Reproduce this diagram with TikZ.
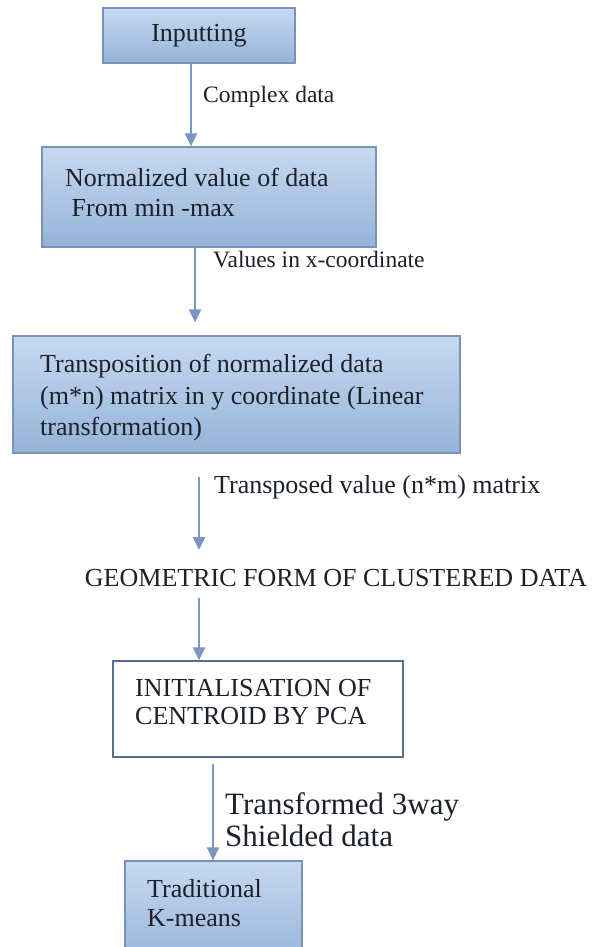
\documentclass[tikz,border=0pt]{standalone}
\usepackage{fontspec}
\setmainfont{LiberationSerif}[Extension=.ttf, UprightFont=*-Regular, BoldFont=*-Bold, ItalicFont=*-Italic]
\usetikzlibrary{arrows.meta}

\definecolor{boxtop}{RGB}{198,217,241}
\definecolor{boxbottom}{RGB}{149,179,215}
\definecolor{boxline}{RGB}{121,146,184}
\definecolor{flowline}{RGB}{122,150,190}
\definecolor{initline}{RGB}{84,111,152}
\definecolor{ink}{RGB}{28,32,42}

\begin{document}
\begin{tikzpicture}[x=1pt,y=-1pt,
  shadedbox/.style={draw=boxline, line width=1.2pt, top color=boxtop, bottom color=boxbottom, inner sep=0pt},
  plainbox/.style={draw=initline, line width=1.3pt, fill=white, inner sep=0pt},
  boxtext/.style={anchor=north west, inner sep=0pt, align=left, text=ink},
  note/.style={anchor=west, inner sep=0pt, text=ink},
  flow/.style={draw=flowline, line width=2.2pt, -{Triangle[width=12pt,length=13pt]}}]
\useasboundingbox (0,0) rectangle (595,947);
\fill [white] (0,0) rectangle (595,947);
% boxes of the flow
\node [shadedbox, minimum width=192pt, minimum height=55pt, text=ink, font=\fontsize{26}{30}\selectfont] (input) at (199,35.5) {Inputting};
\node [shadedbox, minimum width=334pt, minimum height=100pt] (norm) at (209,197) {};
\node [boxtext, font=\fontsize{26}{30}\selectfont] (normtext) at (65,168) {Normalized value of data\\\hspace*{0.25em}From min -max};
\node [shadedbox, minimum width=447pt, minimum height=117pt] (trans) at (236.5,394.5) {};
\node [boxtext, font=\fontsize{26}{31.5}\selectfont] (transtext) at (40,354) {Transposition of normalized data\\(m*n) matrix in y coordinate (Linear\\transformation)};
\node [inner sep=0pt, text=ink, font=\fontsize{26}{30}\selectfont] (geom) at (336,578) {GEOMETRIC FORM OF CLUSTERED DATA};
\node [plainbox, minimum width=290pt, minimum height=96pt] (init) at (258,709) {};
\node [boxtext, font=\fontsize{26}{28}\selectfont] (inittext) at (135,679) {INITIALISATION OF\\CENTROID BY PCA};
\node [shadedbox, minimum width=177pt, minimum height=104pt] (trad) at (213.5,913) {};
\node [boxtext, font=\fontsize{26}{29}\selectfont] (tradtext) at (147,879) {Traditional\\K-means};
% connectors
\draw [flow] ([xshift=-8pt]input.south) -- ([xshift=-8pt]input.south |- norm.north);
\draw [flow, shorten >=13pt] ([xshift=-14pt]norm.south) -- ([xshift=-14pt]norm.south |- trans.north);
\draw [flow, shorten <=23pt, shorten >=19pt] ([xshift=-37.5pt]trans.south) -- ([xshift=-37.5pt]trans.south |- geom.north);
\draw [flow, shorten <=11pt] (geom.south -| trans.south) ++(-37.5pt,0) -- ([xshift=-37.5pt]trans.south |- init.north);
\draw [flow, shorten <=6pt] ([xshift=-45pt]init.south) -- ([xshift=-45pt]init.south |- trad.north);
% labels beside the connectors
\node [note, font=\fontsize{23.5}{28}\selectfont] (lblcomplex) at (203,97) {Complex data};
\node [note, font=\fontsize{23.5}{28}\selectfont] (lblvalues) at (213,260) {Values in x-coordinate};
\node [note, font=\fontsize{26}{30}\selectfont] (lbltransposed) at (214,487) {Transposed value (n*m) matrix};
\node [boxtext, font=\fontsize{31}{32}\selectfont] (lblshielded) at (225,792) {Transformed 3way\\Shielded data};
\end{tikzpicture}
\end{document}
